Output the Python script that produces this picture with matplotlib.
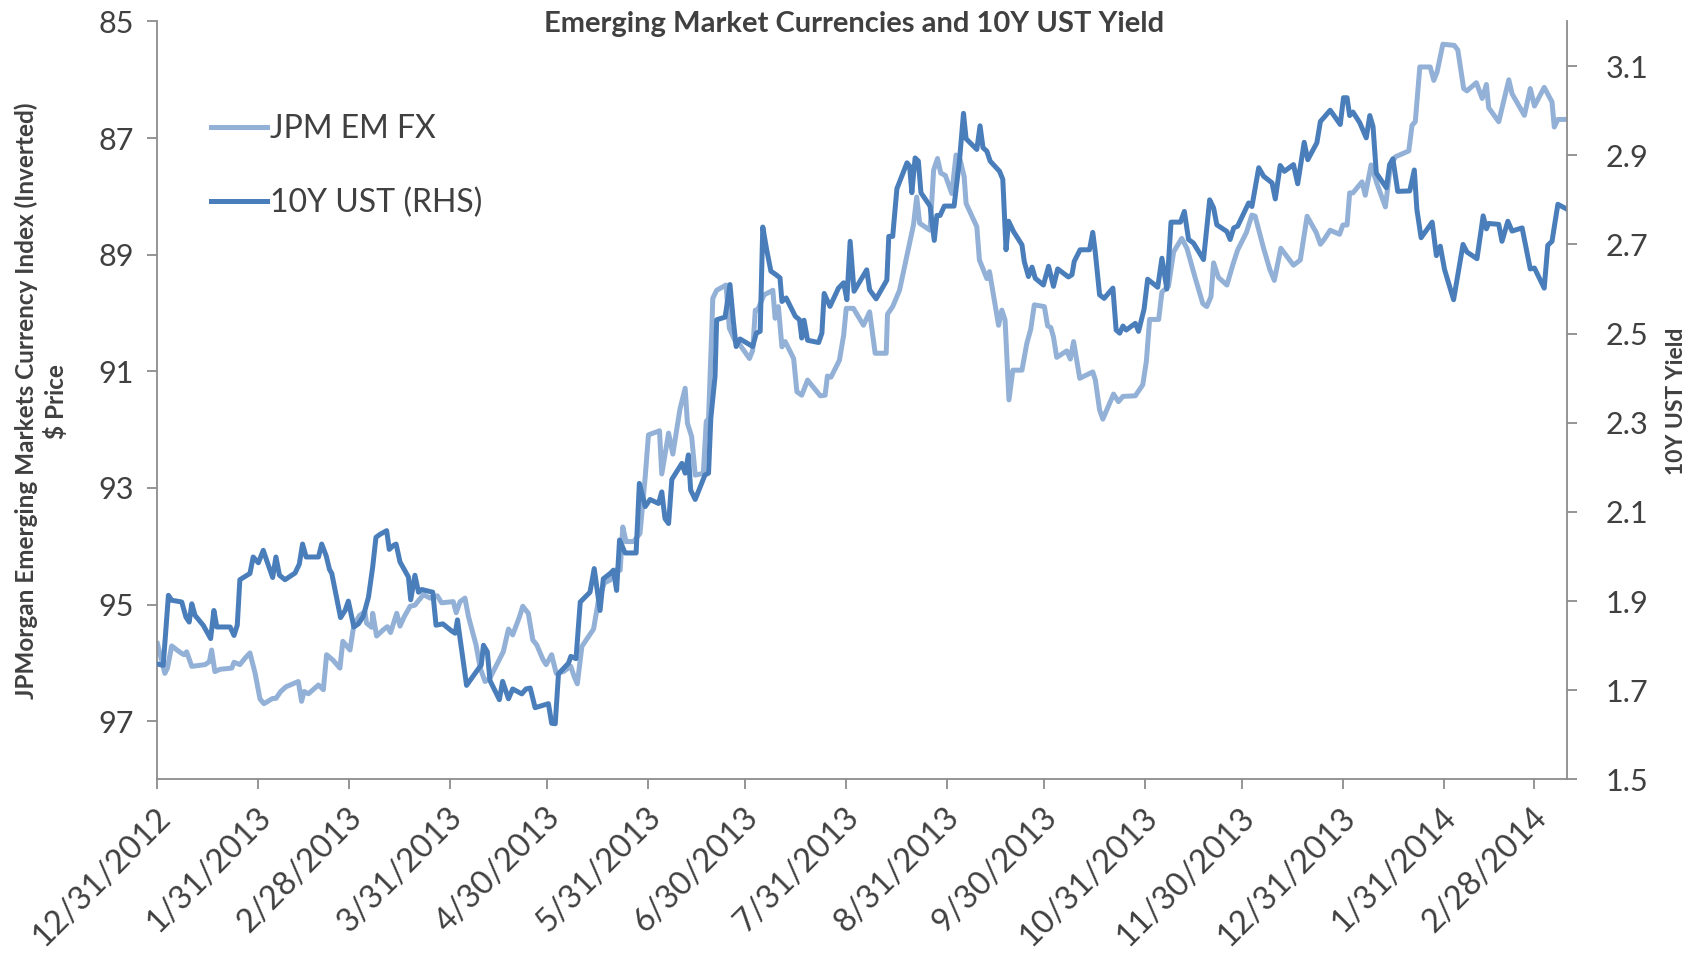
import pandas as pd
import numpy as np
import matplotlib
matplotlib.use('Agg')
import matplotlib.pyplot as plt
import matplotlib.transforms as mtransforms

# Data: vertices as days after 12/31/2012
start = pd.Timestamp('2012-12-31')

fx_days = [0, 2.3, 3.1, 4.4, 7.0, 8.2, 9.0, 10.6, 14.7, 16.0, 16.7, 17.7, 19.3, 22.9, 23.6, 25.4,
           27.0, 28.5, 30.1, 31.6, 32.8, 35.5, 36.5, 38.0, 39.6, 43.4, 44.4, 45.2, 46.5, 49.6, 51.1,
           52.1, 54.0, 56.2, 57.1, 58.3, 59.3, 60.5, 62.2, 63.9, 64.4, 66.0, 66.3, 67.5, 69.6, 70.8,
           71.8, 73.7, 74.7, 76.0, 77.8, 79.3, 81.9, 84.0, 86.2, 87.5, 91.1, 92.0, 93.2, 94.7, 95.8,
           98.1, 99.4, 100.9, 102.4, 104.5, 106.5, 108.1, 109.4, 111.5, 112.5, 114.2, 115.6, 116.8,
           118.7, 119.7, 121.4, 122.8, 125.0, 127.3, 128.3, 129.3, 130.7, 134.3, 135.8, 137.6, 139.4,
           140.4, 142.5, 143.3, 144.3, 146.6, 148.6, 150.2, 151.2, 154.6, 155.3, 157.4, 158.7, 160.9,
           162.5, 163.2, 164.5, 165.6, 168.1, 169.0, 169.7, 170.7, 171.0, 172.2, 175.1, 176.1, 178.2,
           179.4, 182.3, 183.3, 184.1, 184.8, 186.8, 189.5, 190.2, 191.2, 192.3, 193.3, 195.9, 196.9,
           198.4, 200.2, 204.1, 205.6, 206.3, 207.4, 210.0, 211.3, 212.1, 214.3, 217.4, 219.3, 221.0,
           224.4, 224.8, 226.4, 228.5, 230.6, 232.8, 233.8, 234.7, 237.9, 239.0, 240.2, 241.2, 242.6,
           244.6, 245.9, 247.2, 248.4, 249.0, 252.3, 253.1, 255.4, 256.2, 259.0, 260.0, 261.0, 262.2,
           263.4, 266.2, 267.7, 268.9, 270.0, 273.1, 274.1, 275.1, 275.9, 276.9, 280.0, 281.1, 282.1,
           284.0, 288.0, 288.8, 290.1, 291.1, 294.4, 295.9, 297.3, 301.1, 303.4, 304.5, 305.5, 308.3,
           309.3, 311.3, 312.9, 315.4, 317.0, 319.6, 321.9, 323.1, 324.4, 325.2, 326.7, 329.3, 331.2,
           332.6, 335.3, 337.0, 338.0, 340.6, 342.5, 343.9, 345.9, 349.8, 351.9, 354.0, 356.8, 358.1,
           359.1, 361.1, 364.0, 365.0, 366.3, 367.1, 368.1, 370.9, 371.9, 373.7, 375.5, 378.1, 379.6,
           381.2, 385.3, 386.3, 387.3, 388.7, 391.9, 393.0, 394.0, 395.8, 399.3, 400.4, 402.2, 403.2,
           406.1, 407.9, 409.2, 409.9, 413.0, 416.1, 417.1, 420.9, 422.7, 424.0, 427.0, 429.4, 430.1,
           431.2, 434.0]
fx_vals = [95.67, 96.18, 96.09, 95.71, 95.82, 95.86, 95.81, 96.06, 96.03, 95.98, 95.78, 96.15, 96.11,
           96.09, 95.99, 96.03, 95.92, 95.83, 96.18, 96.62, 96.70, 96.61, 96.61, 96.49, 96.41, 96.32,
           96.66, 96.49, 96.53, 96.38, 96.46, 95.86, 95.95, 96.09, 95.63, 95.71, 95.78, 95.35, 95.19,
           95.12, 95.32, 95.39, 95.15, 95.54, 95.43, 95.38, 95.48, 95.15, 95.37, 95.21, 95.03, 95.01,
           94.83, 94.89, 94.85, 94.97, 94.95, 95.14, 94.95, 94.89, 95.21, 95.69, 96.09, 96.32, 96.26,
           96.03, 95.81, 95.42, 95.52, 95.21, 95.03, 95.15, 95.61, 95.69, 95.94, 96.03, 95.86, 96.18,
           96.15, 96.06, 96.23, 96.36, 95.72, 95.42, 94.93, 94.63, 94.58,
           94.41, 94.41, 93.67, 93.92, 93.92, 93.78, 92.81, 92.09, 92.02, 92.76, 92.06, 92.42, 91.65,
           91.29, 91.89, 92.12, 92.78, 92.75, 91.86, 91.81, 90.29, 89.75, 89.61, 89.52, 90.26, 90.52,
           90.55, 90.78, 90.64, 89.95, 89.95, 89.69, 89.61, 90.09, 89.89, 90.58, 90.49, 90.78, 91.35,
           91.41, 91.15, 91.42, 91.41, 91.08, 91.10, 90.81, 90.38, 89.92, 89.92, 90.21, 89.98, 90.69,
           90.69, 90.02, 89.89, 89.61, 89.06, 88.49, 88.01, 88.46, 88.58, 87.55, 87.35, 87.60, 87.64,
           87.95, 87.29, 87.38, 87.66, 88.12, 88.52, 89.09, 89.41, 89.29, 90.21, 89.95, 90.12, 91.49,
           90.98, 90.98, 90.52, 90.28, 89.86, 89.89, 90.22, 90.25, 90.41, 90.76, 90.65, 90.79, 90.49,
           91.12, 91.01, 91.15, 91.66, 91.82, 91.39, 91.52, 91.43, 91.42, 91.23, 90.83, 90.11, 90.11,
           89.64, 89.54, 88.95, 88.72, 88.89, 89.41, 89.84, 89.89, 89.72, 89.14, 89.39, 89.52, 89.16,
           88.92, 88.62, 88.32, 88.34, 88.89, 89.25, 89.44, 88.89, 89.18, 89.09, 88.34, 88.62, 88.82,
           88.75, 88.58, 88.65, 88.49, 88.49, 87.94, 87.94, 87.75, 87.98, 87.46, 87.78, 88.18, 87.49,
           87.32, 87.22, 86.78, 86.72, 85.78, 85.78, 86.01, 85.87, 85.39, 85.41, 85.49, 86.15, 86.19,
           86.05, 86.32, 86.08, 86.48, 86.72, 86.00, 86.24, 86.61, 86.15, 86.45, 86.13, 86.38, 86.81,
           86.68, 86.68]

ust_days = [0, 1.8, 3.4, 4.4, 7.5, 8.8, 9.8, 10.6, 11.6, 14.1, 16.4, 17.4, 18.3, 22.4, 23.6, 24.6,
            25.4, 28.5, 29.5, 31.1, 32.6, 33.9, 35.5, 36.5, 37.6, 39.3, 42.4, 43.7, 44.7, 45.8, 49.6,
            50.6, 52.0, 53.0, 53.7, 56.4, 57.8, 58.8, 60.5, 61.9, 63.4, 65.0, 66.3, 67.3, 68.6, 70.6,
            71.4, 72.7, 73.5, 74.7, 77.3, 78.0, 79.3, 80.4, 81.4, 84.8, 85.8, 87.9, 90.6, 91.7, 92.4,
            95.2, 98.8, 99.7, 100.4, 101.6, 102.4, 105.3, 106.3, 108.1, 109.4, 112.2, 113.5, 114.8,
            116.3, 120.4, 121.4, 122.5, 123.5, 126.6, 127.3, 128.9, 130.2, 133.2, 134.5, 136.3, 137.3,
            139.4, 140.4, 141.4, 142.3, 144.0, 147.4, 148.4, 150.2, 151.7, 154.3, 155.3, 156.3, 157.4,
            158.4, 161.5, 162.5, 163.5, 164.2, 165.6, 168.6, 169.7, 170.4, 171.7, 172.2, 174.8, 176.3,
            177.4, 178.2, 179.4, 183.3, 184.4, 185.6, 186.4, 187.6, 188.9, 190.5, 191.7, 192.3, 193.6,
            196.4, 197.7, 198.4, 199.1, 200.2, 203.6, 204.6, 205.3, 207.1, 209.7, 211.3, 212.3, 213.3,
            214.5, 218.4, 219.3, 221.3, 224.6, 225.2, 226.4, 227.7, 230.8, 231.6, 232.3, 233.3, 234.3,
            235.1, 237.9, 239.2, 240.0, 241.0, 242.3, 245.3, 247.0, 248.2, 249.0, 252.3, 253.3, 254.2,
            255.4, 256.4, 259.3, 260.3, 261.3, 262.1, 263.6, 266.2, 266.9, 268.2, 269.3, 270.3, 272.8,
            274.4, 275.9, 277.2, 280.5, 281.6, 282.3, 284.1, 287.0, 288.0, 288.8, 290.1, 291.5, 294.2,
            295.2, 296.3, 297.3, 298.3, 301.1, 302.1, 303.8, 304.9, 308.0, 309.3, 310.8, 312.1, 315.0,
            316.2, 317.5, 319.0, 322.1, 324.0, 325.2, 326.2, 329.3, 330.3, 331.4, 332.6, 336.0, 337.0,
            339.1, 340.6, 343.2, 344.2, 345.7, 347.0, 349.8, 351.1, 353.1, 354.2, 357.0, 358.1, 359.1,
            361.1, 364.2, 365.2, 366.3, 367.1, 368.1, 370.2, 372.2, 373.3, 374.3, 375.3, 378.4, 379.4,
            380.4, 381.9, 385.6, 387.0, 387.8, 389.1, 392.5, 393.8, 395.0, 396.3, 399.1, 402.0, 403.2,
            406.3, 408.2, 409.2, 409.9, 413.0, 414.0, 415.8, 417.1, 420.2, 422.7, 424.0, 427.0, 428.1,
            429.4, 431.2, 434.0]
ust_vals = [1.759, 1.756, 1.913, 1.902, 1.898, 1.864, 1.853, 1.894, 1.868, 1.846, 1.816, 1.879, 1.842,
            1.842, 1.823, 1.846, 1.948, 1.962, 1.999, 1.986, 2.014, 1.986, 1.953, 1.999, 1.958, 1.948,
            1.963, 1.983, 2.028, 1.999, 1.999, 2.028, 2.001, 1.971, 1.962, 1.863, 1.879, 1.900, 1.842,
            1.849, 1.866, 1.909, 1.977, 2.043, 2.050, 2.058, 2.016, 2.025, 2.028, 1.988, 1.954, 1.903,
            1.958, 1.920, 1.926, 1.920, 1.846, 1.849, 1.833, 1.828, 1.858, 1.711, 1.748, 1.756, 1.801,
            1.786, 1.722, 1.679, 1.720, 1.681, 1.703, 1.692, 1.703, 1.705, 1.661, 1.670, 1.626, 1.625,
            1.737, 1.761, 1.776, 1.771, 1.898, 1.920, 1.973, 1.879, 1.950, 1.962,
            1.969, 1.924, 2.037, 2.008, 2.008, 2.164, 2.112, 2.128, 2.119, 2.145, 2.085, 2.074, 2.173,
            2.209, 2.187, 2.228, 2.149, 2.128, 2.183, 2.187, 2.310, 2.404, 2.531, 2.537, 2.610, 2.524,
            2.471, 2.488, 2.471, 2.501, 2.505, 2.739, 2.688, 2.640, 2.632, 2.625, 2.572, 2.580, 2.539,
            2.531, 2.490, 2.530, 2.485, 2.480, 2.501, 2.590, 2.561, 2.602, 2.614, 2.576, 2.707, 2.595,
            2.643, 2.598, 2.578, 2.620, 2.718, 2.718, 2.825, 2.883, 2.876, 2.816, 2.894, 2.887, 2.816,
            2.786, 2.709, 2.765, 2.765, 2.786, 2.786, 2.891, 2.994, 2.937, 2.913, 2.966, 2.917, 2.909,
            2.887, 2.864, 2.846, 2.688, 2.752, 2.729, 2.699, 2.662, 2.628, 2.649, 2.624, 2.609, 2.651,
            2.606, 2.645, 2.627, 2.632, 2.662, 2.688, 2.688, 2.727, 2.681, 2.587, 2.579, 2.602, 2.508,
            2.501, 2.517, 2.508, 2.523, 2.505, 2.555, 2.622, 2.604, 2.669, 2.600, 2.750, 2.750, 2.774,
            2.711, 2.703, 2.666, 2.800, 2.782, 2.744, 2.729, 2.711, 2.737, 2.741, 2.793, 2.785, 2.872,
            2.853, 2.838, 2.802, 2.877, 2.864, 2.879, 2.836, 2.929, 2.890, 2.928, 2.976, 2.984, 3.001,
            2.969, 3.029, 3.029, 2.989, 2.997, 2.973, 2.939, 2.989, 2.964, 2.860, 2.827, 2.879, 2.892,
            2.819, 2.820, 2.867, 2.778, 2.715, 2.750, 2.675, 2.696, 2.644, 2.576, 2.700, 2.683, 2.668,
            2.764, 2.735, 2.747, 2.745, 2.707, 2.752, 2.730, 2.737, 2.645, 2.647, 2.602, 2.698, 2.707,
            2.790, 2.779]

fx_ticks = [85, 87, 89, 91, 93, 95, 97]
ust_ticks = [1.5, 1.7, 1.9, 2.1, 2.3, 2.5, 2.7, 2.9, 3.1]

fx_dates = start + pd.to_timedelta(fx_days, unit='D')
ust_dates = start + pd.to_timedelta(ust_days, unit='D')
month_ends = pd.date_range('2012-12-31', '2014-02-28', freq='ME')

plt.rcParams['font.family'] = ['Lato', 'DejaVu Sans']
txt = '#404040'
grey = '#8c8c8c'
light = '#93B1D7'
dark = '#4A7EBB'

fig = plt.figure(figsize=(16.94, 9.55), dpi=100)
ax = fig.add_axes([0.0929, 0.1838, 0.8321, 0.7937])
ax2 = ax.twinx()

l1, = ax.plot(fx_dates, fx_vals, color=light, lw=3.6, label='JPM EM FX')
l2, = ax2.plot(ust_dates, ust_vals, color=dark, lw=3.6, label='10Y UST (RHS)')

ax.set_xlim(start, start + pd.Timedelta(days=434))
ax.set_ylim(98, 85)
ax.set_yticks(fx_ticks)
ax2.set_ylim(1.5, 3.2)
ax2.set_yticks(ust_ticks)
ax2.set_yticklabels([f'{v:.1f}' for v in ust_ticks])

ax.set_xticks(month_ends)
ax.set_xticklabels([f'{d.month}/{d.day}/{d.year}' for d in month_ends],
                   rotation=45, ha='right', va='center', rotation_mode='anchor')

for a in (ax, ax2):
    a.spines['top'].set_visible(False)
    for s in a.spines.values():
        s.set_color(grey)
        s.set_linewidth(1.3)
    a.tick_params(direction='out', length=7, width=1.3, color=grey,
                  labelcolor=txt, labelsize=22)
ax2.spines['left'].set_visible(False)
ax2.spines['bottom'].set_visible(False)
ax.spines['right'].set_visible(False)
ax.tick_params(axis='x', pad=17, labelsize=23.5)
ax.tick_params(axis='y', pad=10)
ax2.tick_params(axis='y', pad=21)

# nudge the rotated date labels a little to the right, as in the reference
shift = mtransforms.ScaledTranslation(8 / 100, 0, fig.dpi_scale_trans)
for lab in ax.get_xticklabels():
    lab.set_transform(lab.get_transform() + shift)

fig.text(0.504, 0.975, 'Emerging Market Currencies and 10Y UST Yield',
         ha='center', va='center', fontsize=21, fontweight='bold', color=txt)
fig.text(0.0245, 0.58, 'JPMorgan Emerging Markets Currency Index (Inverted)\n$ Price',
         rotation=90, ha='center', va='center', fontsize=17.5, fontweight='bold',
         color=txt, multialignment='center', linespacing=1.3)
fig.text(0.9895, 0.58, '10Y UST Yield', rotation=90, ha='center', va='center',
         fontsize=16.5, fontweight='bold', color=txt)

leg = ax2.legend(handles=[l1, l2], loc='upper left', bbox_to_anchor=(0.038, 0.878),
                 frameon=False, fontsize=23, handlelength=1.75, handletextpad=0.1,
                 labelspacing=1.37, borderpad=0, borderaxespad=0)
for t in leg.get_texts():
    t.set_color(txt)

fig.savefig('out.png', dpi=100)
